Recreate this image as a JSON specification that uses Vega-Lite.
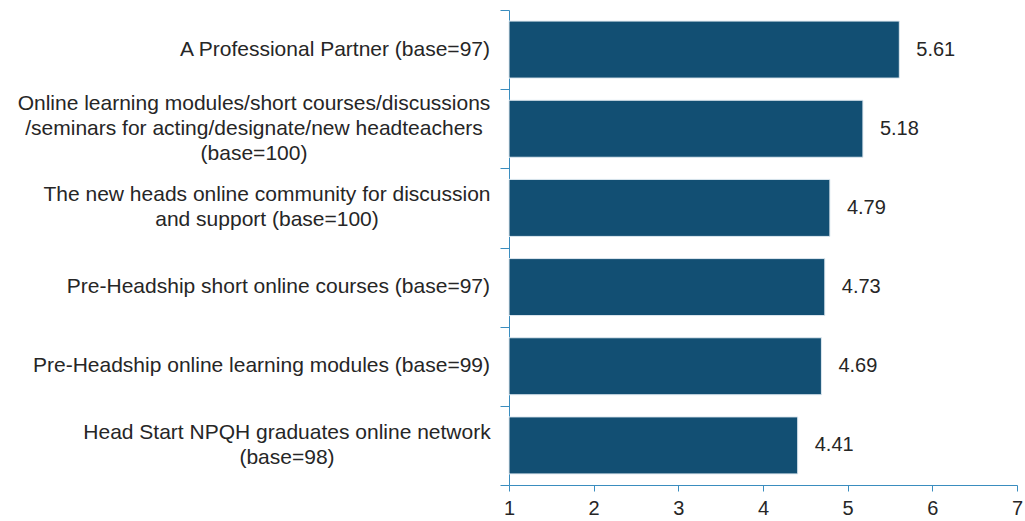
{
  "$schema": "https://vega.github.io/schema/vega-lite/v6.json",
  "width": 508,
  "height": 475,
  "autosize": "none",
  "padding": {"left": 509, "top": 10, "right": 8, "bottom": 36},
  "background": "white",
  "data": {
    "values": [
      {"label": "A Professional Partner (base=97)", "value": 5.61, "lines": 1},
      {"label": "Online learning modules/short courses/discussions|/seminars for acting/designate/new headteachers|(base=100)", "value": 5.18, "lines": 3},
      {"label": "The new heads online community for discussion|and support (base=100)", "value": 4.79, "lines": 2},
      {"label": "Pre-Headship short online courses (base=97)", "value": 4.73, "lines": 1},
      {"label": "Pre-Headship online learning modules (base=99)", "value": 4.69, "lines": 1},
      {"label": "Head Start NPQH graduates online network|(base=98)", "value": 4.41, "lines": 2}
    ]
  },
  "config": {
    "view": {"stroke": null},
    "font": "Liberation Sans",
    "axis": {
      "domainColor": "#3a8dbf",
      "tickColor": "#3a8dbf",
      "labelColor": "#262626",
      "labelFont": "Liberation Sans",
      "labelFontSize": 20,
      "grid": false,
      "title": null
    },
    "text": {"font": "Liberation Sans", "fill": "#262626"}
  },
  "encoding": {
    "y": {
      "field": "label",
      "type": "nominal",
      "sort": null,
      "scale": {"paddingInner": 0, "paddingOuter": 0},
      "axis": {"tickBand": "extent", "tickSize": 9, "labels": false}
    }
  },
  "layer": [
    {
      "mark": {"type": "bar", "color": "#124f73", "stroke": "#dfe9f0", "strokeWidth": 1, "height": {"band": 0.72}},
      "encoding": {
        "x": {
          "field": "value",
          "type": "quantitative",
          "scale": {"domain": [1, 7], "nice": false, "zero": false},
          "axis": {"values": [1, 2, 3, 4, 5, 6, 7], "format": "d", "tickSize": 6, "labelPadding": 7, "labelFlush": false}
        },
        "x2": {"datum": 1}
      }
    },
    {
      "mark": {"type": "text", "align": "left", "dx": 17, "fontSize": 20},
      "encoding": {
        "x": {"field": "value", "type": "quantitative"},
        "text": {"field": "value", "type": "quantitative", "format": ".2f"}
      }
    },
    {
      "transform": [{"filter": "datum.lines == 1"}],
      "mark": {"type": "text", "align": "right", "baseline": "middle", "dx": -19, "fontSize": 21},
      "encoding": {"x": {"datum": 1}, "text": {"field": "label"}}
    },
    {
      "transform": [{"filter": "datum.lines == 3"}],
      "mark": {"type": "text", "align": "center", "baseline": "middle", "dx": -255, "dy": -25, "fontSize": 21, "lineHeight": 25, "lineBreak": "|"},
      "encoding": {"x": {"datum": 1}, "text": {"field": "label"}}
    },
    {
      "transform": [{"filter": "datum.lines == 2 && datum.value == 4.79"}],
      "mark": {"type": "text", "align": "center", "baseline": "middle", "dx": -242, "dy": -12.5, "fontSize": 21, "lineHeight": 25, "lineBreak": "|"},
      "encoding": {"x": {"datum": 1}, "text": {"field": "label"}}
    },
    {
      "transform": [{"filter": "datum.lines == 2 && datum.value == 4.41"}],
      "mark": {"type": "text", "align": "center", "baseline": "middle", "dx": -222, "dy": -12.5, "fontSize": 21, "lineHeight": 25, "lineBreak": "|"},
      "encoding": {"x": {"datum": 1}, "text": {"field": "label"}}
    }
  ]
}
